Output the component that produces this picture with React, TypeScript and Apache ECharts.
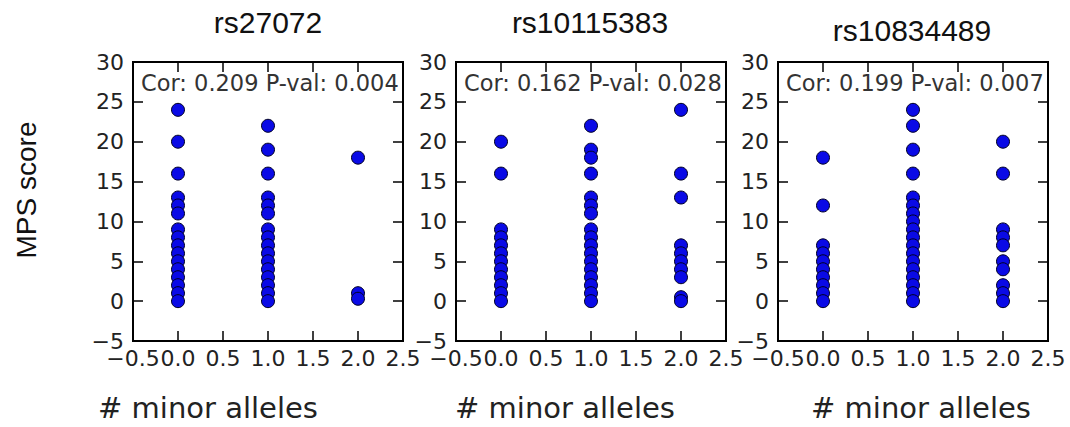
import React, { useEffect, useRef } from 'react';
import * as echarts from 'echarts';

const titles = ['rs27072', 'rs10115383', 'rs10834489'];
const corTexts = ['Cor: 0.209 P-val: 0.004', 'Cor: 0.162 P-val: 0.028', 'Cor: 0.199 P-val: 0.007'];
const xAxisName = '# minor alleles';
const yAxisName = 'MPS score';

// MPS scores per number of minor alleles (0, 1, 2) for each SNP
const rs27072_0 = [24, 20, 16, 13, 12, 11, 9, 8, 7, 6, 5, 4, 3, 2, 1, 0];
const rs27072_1 = [22, 19, 16, 13, 12, 11, 9, 8, 7, 6, 5, 4, 3, 2, 1, 0];
const rs27072_2 = [18, 1, 0.3];
const rs10115383_0 = [20, 16, 9, 8, 7, 6, 5, 4, 3, 2, 1, 0];
const rs10115383_1 = [22, 19, 18, 16, 13, 12, 11, 9, 8, 7, 6, 5, 4, 3, 2, 1, 0];
const rs10115383_2 = [24, 16, 13, 7, 6, 5, 4, 3, 0.5, 0];
const rs10834489_0 = [18, 12, 7, 6, 5, 4, 3, 2, 1, 0];
const rs10834489_1 = [24, 22, 19, 16, 13, 12, 11, 10, 9, 8, 7, 6, 5, 4, 3, 2, 1, 0];
const rs10834489_2 = [20, 16, 9, 8, 7, 5, 4, 2, 1, 0];

const panels = [
  [rs27072_0, rs27072_1, rs27072_2],
  [rs10115383_0, rs10115383_1, rs10115383_2],
  [rs10834489_0, rs10834489_1, rs10834489_2],
];

const xMin = -0.5, xMax = 2.5, xStep = 0.5;
const yMin = -5, yMax = 30, yStep = 5;

const gridLefts = [133, 456, 778];
const gridWidth = 270;
const gridTop = 62;
const gridHeight = 279;
const titleCenters = [268, 590, 912];
const titleYs = [22, 22, 30];
const xNameCenters = [208, 565, 921];

const tickFont = 'DejaVu Sans';
const fmtX = (v: number) => (v < 0 ? '\u2212' : '') + Math.abs(v).toFixed(1);
const fmtY = (v: number) => (v < 0 ? '\u2212' : '') + String(Math.abs(v));

export default function App() {
  const ref = useRef<HTMLDivElement>(null);
  useEffect(() => {
    if (!ref.current) return;
    const chart = echarts.init(ref.current, null, { renderer: 'svg' });
    const grid: any[] = [];
    const xAxis: any[] = [];
    const yAxis: any[] = [];
    const series: any[] = [];
    const graphic: any[] = [];
    const tick = { show: true, inside: true, length: 10, lineStyle: { color: '#000', width: 1.5 } };
    const noLine = { show: false, onZero: false };
    panels.forEach((cols, i) => {
      grid.push({ left: gridLefts[i], top: gridTop, width: gridWidth, height: gridHeight, show: true, borderColor: '#000', borderWidth: 2, backgroundColor: '#fff' });
      xAxis.push({
        type: 'value', gridIndex: i, min: xMin, max: xMax, interval: xStep, position: 'bottom',
        axisLine: noLine, axisTick: tick, splitLine: { show: false },
        axisLabel: { formatter: fmtX, fontFamily: tickFont, fontSize: 22, color: '#222', margin: 6, showMinLabel: true, showMaxLabel: true },
      });
      yAxis.push({
        type: 'value', gridIndex: i, min: yMin, max: yMax, interval: yStep, position: 'left',
        axisLine: noLine, axisTick: tick, splitLine: { show: false },
        axisLabel: { formatter: fmtY, fontFamily: tickFont, fontSize: 22, color: '#222', margin: 9, showMinLabel: true, showMaxLabel: true },
      });
      const data: number[][] = [];
      cols.forEach((vals, x) => vals.forEach((v) => data.push([x, v])));
      series.push({
        type: 'scatter', xAxisIndex: i, yAxisIndex: i, data, symbol: 'circle', symbolSize: 13,
        itemStyle: { color: '#0a0ae6', borderColor: '#000022', borderWidth: 1, opacity: 1 },
      });
      graphic.push({
        type: 'text', x: titleCenters[i], y: titleYs[i],
        style: { text: titles[i], font: '30px "Liberation Sans", Arial, sans-serif', fill: '#111', textAlign: 'center', textVerticalAlign: 'middle' },
      });
      graphic.push({
        type: 'text', x: gridLefts[i] + 8, y: 83,
        style: { text: corTexts[i], font: '22.5px "DejaVu Sans", sans-serif', fill: '#333', textAlign: 'left', textVerticalAlign: 'middle' },
      });
      graphic.push({
        type: 'text', x: xNameCenters[i], y: 408,
        style: { text: xAxisName, font: '29px "DejaVu Sans", sans-serif', fill: '#222', textAlign: 'center', textVerticalAlign: 'middle' },
      });
    });
    panels.forEach((_, i) => {
      xAxis.push({
        type: 'value', gridIndex: i, min: xMin, max: xMax, interval: xStep, position: 'top',
        axisLine: noLine, axisTick: tick, axisLabel: { show: false }, splitLine: { show: false },
      });
      yAxis.push({
        type: 'value', gridIndex: i, min: yMin, max: yMax, interval: yStep, position: 'right',
        axisLine: noLine, axisTick: tick, axisLabel: { show: false }, splitLine: { show: false },
      });
    });
    graphic.push({
      type: 'text', x: 26, y: 190, rotation: Math.PI / 2,
      style: { text: yAxisName, font: '28px "Liberation Sans", Arial, sans-serif', fill: '#111', textAlign: 'center', textVerticalAlign: 'middle' },
    });
    chart.setOption({ animation: false, backgroundColor: '#fff', grid, xAxis, yAxis, series, graphic });
    return () => chart.dispose();
  }, []);
  return <div ref={ref} style={{ position: 'fixed', left: 0, top: 0, width: 1070, height: 427 }} />;
}
